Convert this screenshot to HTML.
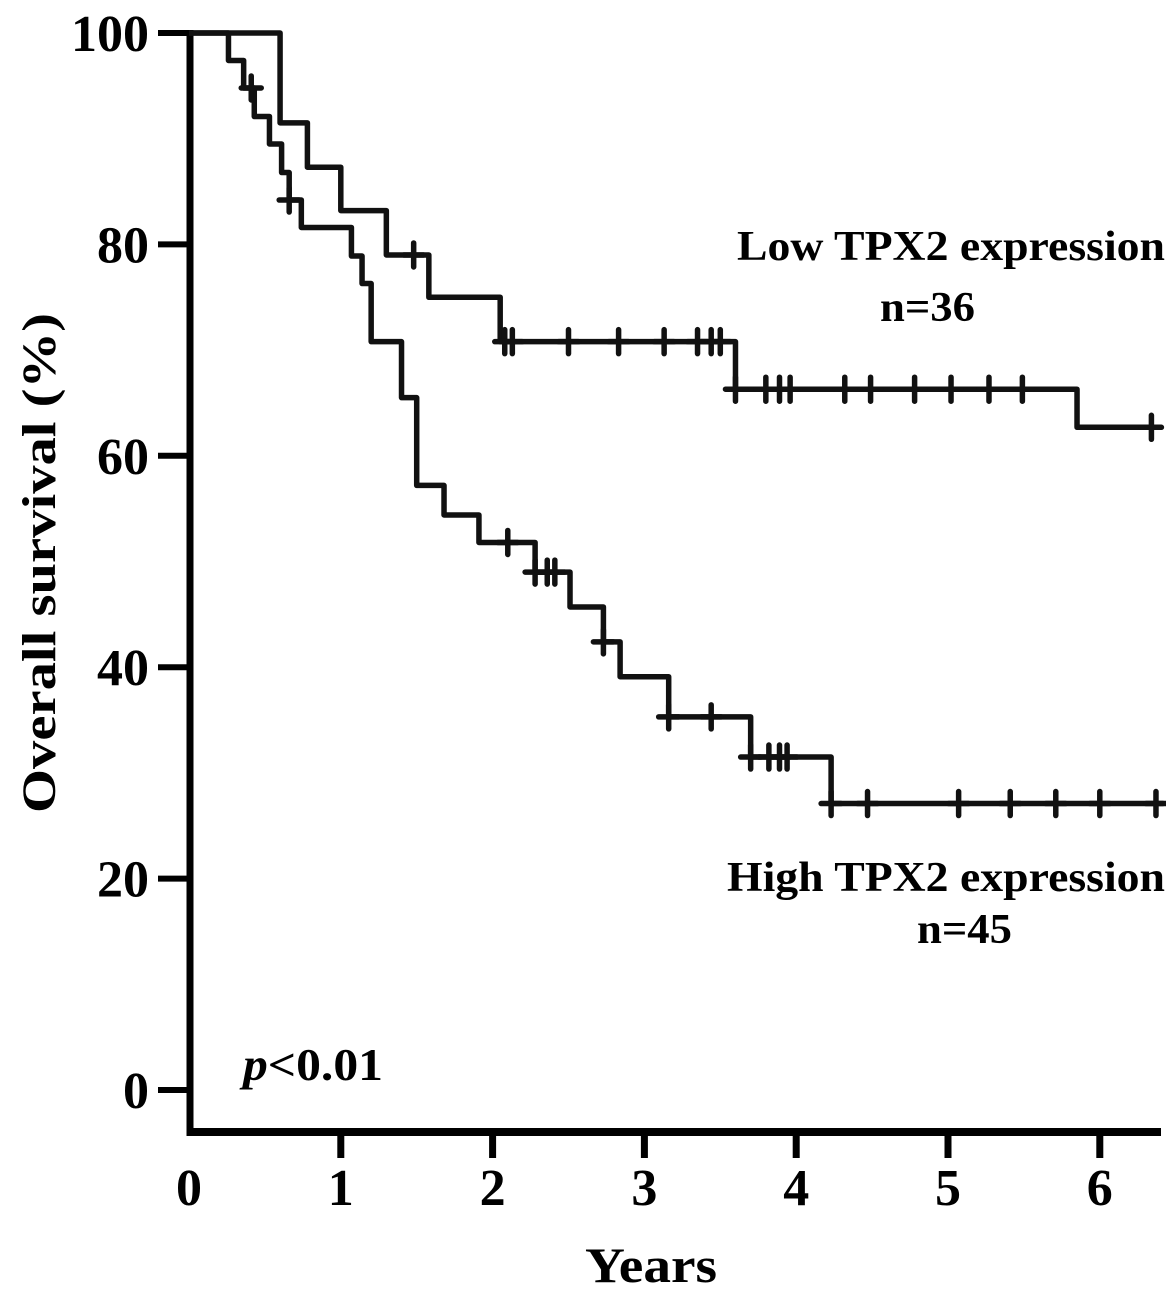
<!DOCTYPE html>
<html><head><meta charset="utf-8"><style>
html,body{margin:0;padding:0;background:#fff}
svg{display:block}
text{font-family:"Liberation Serif",serif;font-weight:bold;fill:#000}
</style></head><body>
<svg id="chart" width="1166" height="1294" viewBox="0 0 1166 1294">
<g id="axes"></g>
<g id="curves"></g>
<text transform="translate(55,563) rotate(-90)" text-anchor="middle" font-size="48" textLength="500" lengthAdjust="spacingAndGlyphs">Overall survival (%)</text>
<text x="651" y="1282" text-anchor="middle" font-size="50" textLength="132" lengthAdjust="spacingAndGlyphs">Years</text>
<text x="737" y="260" font-size="42" textLength="428" lengthAdjust="spacingAndGlyphs">Low TPX2 expression</text>
<text x="880" y="321" font-size="42" textLength="95" lengthAdjust="spacingAndGlyphs">n=36</text>
<text x="727" y="891" font-size="42" textLength="438" lengthAdjust="spacingAndGlyphs">High TPX2 expression</text>
<text x="917" y="943" font-size="42" textLength="95" lengthAdjust="spacingAndGlyphs">n=45</text>
<text x="243" y="1080" font-size="46" textLength="140" lengthAdjust="spacingAndGlyphs"><tspan font-style="italic">p</tspan>&lt;0.01</text>
</svg>
<script>
const xTicks=[0,1,2,3,4,5,6];
const yTicks=[0,20,40,60,80,100];
const lowTimes=[0,0.6,0.78,1.0,1.3,1.58,2.05,3.6,5.85];
const lowSurv=[100,91.5,87.3,83.2,79.0,75.0,70.8,66.3,62.7];
const lowEnd=6.36;
const lowCensorT=[1.48,2.08,2.13,2.5,2.83,3.13,3.35,3.44,3.5,3.6,3.8,3.89,3.96,4.32,4.49,4.78,5.02,5.27,5.49,6.34];
const highTimes=[0,0.26,0.36,0.43,0.53,0.61,0.66,0.74,1.07,1.14,1.2,1.4,1.5,1.68,1.91,2.28,2.51,2.73,2.84,3.16,3.7,4.23];
const highSurv=[100,97.4,94.8,92.1,89.5,86.8,84.2,81.6,78.9,76.3,70.8,65.5,57.2,54.4,51.8,49.0,45.7,42.4,39.1,35.3,31.5,27.1];
const highEnd=6.42;
const highCensorT=[0.41,0.66,2.1,2.28,2.36,2.41,2.73,3.16,3.44,3.7,3.82,3.89,3.94,4.23,4.47,5.07,5.41,5.71,6.0,6.37];
const NS='http://www.w3.org/2000/svg';
const X0=189,XS=151.8,Y100=33,Y0=1090;
const xs=t=>X0+t*XS, ys=v=>Y0-(Y0-Y100)*v/100;
function mk(tag,attrs,parent){const e=document.createElementNS(NS,tag);for(const k in attrs)e.setAttribute(k,attrs[k]);parent.appendChild(e);return e;}
const ax=document.getElementById('axes');
const yl=mk('line',{x1:190,y1:30,x2:190,y2:1136,stroke:'#000','stroke-width':7},ax);


const xl=mk('line',{x1:187,y1:1132,x2:1161,y2:1132,stroke:'#000','stroke-width':8},ax);


yTicks.forEach(v=>{
 const t=mk('line',{x1:158,y1:ys(v),x2:190,y2:ys(v),stroke:'#000','stroke-width':6},ax);
 
 
 const l=mk('text',{x:149,y:ys(v)+18,'text-anchor':'end','font-size':52},ax);
 
 
 l.textContent=v;
});
xTicks.forEach(v=>{
 if(v>0){const t=mk('line',{x1:xs(v),y1:1132,x2:xs(v),y2:1158,stroke:'#000','stroke-width':7},ax);
 
 }
 const l=mk('text',{x:xs(v),y:1205,'text-anchor':'middle','font-size':52},ax);
 
 
 l.textContent=v;
});
const cv=document.getElementById('curves');
function survAt(times,surv,t){let s=surv[0];for(let i=0;i<times.length;i++)if(times[i]<=t)s=surv[i];return s;}
function drawCurve(times,surv,end,cens,name){
 let d='M'+xs(times[0])+' '+ys(surv[0]);
 for(let i=1;i<times.length;i++){d+=' H'+xs(times[i])+' V'+ys(surv[i]);}
 d+=' H'+xs(end);
 const p=mk('path',{d:d,fill:'none',stroke:'#111','stroke-width':5.5,'stroke-linejoin':'round'},cv);
 
 
 cens.forEach(t=>{
  const x=xs(t),y=ys(survAt(times,surv,t));
  const c=mk('path',{d:`M${x} ${y-12} V${y+12} M${x-10} ${y} H${x+10}`,stroke:'#111','stroke-width':5.5,'stroke-linecap':'round'},cv);
  
  
 });
}
drawCurve(lowTimes,lowSurv,lowEnd,lowCensorT,'low-tpx2');
drawCurve(highTimes,highSurv,highEnd,highCensorT,'high-tpx2');
</script>
</body></html>
